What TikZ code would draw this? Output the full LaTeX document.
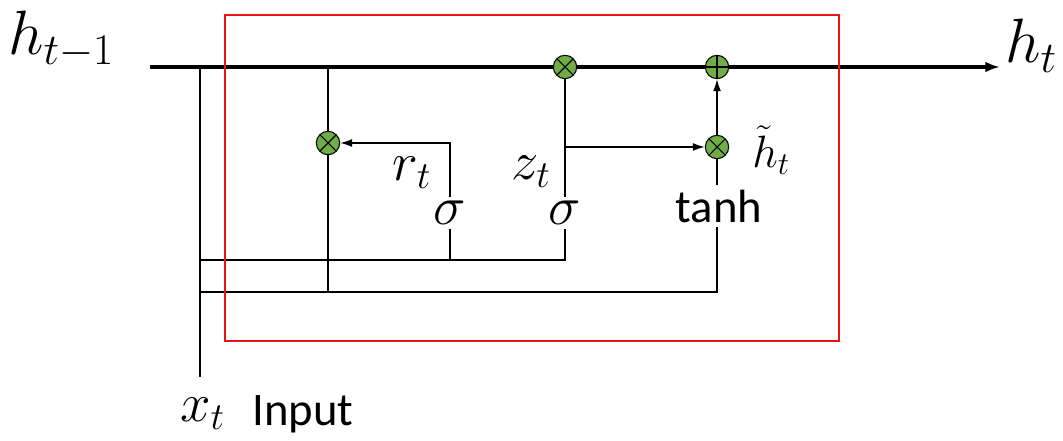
\RequirePackage{fix-cm}
\documentclass[tikz,border=0pt]{standalone}
\usepackage{fontspec}
\setmainfont{Carlito}
\usepackage{tikz}
\usetikzlibrary{arrows.meta,positioning}
\definecolor{gategreen}{RGB}{112,173,71}
\definecolor{boxred}{RGB}{232,20,20}

\begin{document}
\begin{tikzpicture}[
    x=0.75pt, y=-0.75pt,
    wire/.style={line width=1pt},
    mainline/.style={line width=2.3pt},
    arr/.style={-{Latex[length=9pt, width=6pt]}},
    bigarr/.style={-{Latex[length=11pt, width=8pt]}},
    gate/.style={draw, circle, fill=gategreen, minimum size=17.5pt, inner sep=0pt, line width=0.8pt},
    mult/.style={gate, path picture={\draw[line width=0.8pt] (path picture bounding box.south west) -- (path picture bounding box.north east) (path picture bounding box.north west) -- (path picture bounding box.south east);}},
    plus/.style={gate, path picture={\draw[line width=0.8pt] (path picture bounding box.north) -- (path picture bounding box.south) (path picture bounding box.west) -- (path picture bounding box.east);}},
    act/.style={inner sep=3pt, font=\fontsize{41}{48}\selectfont},
    fn/.style={inner sep=3pt, font=\fontsize{35}{42}\selectfont},
    lbl/.style={inner sep=0pt, font=\fontsize{41}{48}\selectfont},
    biglbl/.style={inner sep=0pt, font=\fontsize{47}{56}\selectfont},
    smlbl/.style={inner sep=0pt, font=\fontsize{34}{40}\selectfont}
]
\useasboundingbox (0,0) rectangle (1063,441);

% gates
\node[mult] (mulz) at (565,67) {};
\node[plus] (addh) at (717,67) {};
\node[mult] (mulr) at (328,143) {};
\node[mult] (mulh) at (717,147) {};
\node[act] (sigr) at (450,213) {$\sigma$};
\node[act] (sigz) at (565,213) {$\sigma$};
\node[fn] (tanh) at (719,206) {tanh};

% labels
\node[biglbl, anchor=base west] (hprev) at (8,55) {$h_{t-1}$};
\node[biglbl, anchor=base west] (hnext) at (1005,63) {$h_t$};
\node[lbl] (rlab) at (412,173) {$r_t$};
\node[lbl] (zlab) at (531,172) {$z_t$};
\node[smlbl] (htlab) at (771,150) {$\tilde{h}_t$};
\node[lbl, anchor=base west] (xt) at (180,421) {$x_t$};
\node[fn, inner sep=0pt, anchor=base west] (inlab) at (252,425) {Input};

\coordinate (hin) at (150,67);
\coordinate (hout) at (1000,67);
\coordinate (xtop) at (200,67);
\coordinate (xbot) at (200,377);
\coordinate (xsig) at (200,260);
\coordinate (xtan) at (200,292);

% state line
\draw[mainline, bigarr] (hin) -- (mulz) -- (addh) -- (hout);

% input x_t
\draw[wire] (xbot) -- (xtop);
\draw[wire] (xsig) -| (sigz);
\draw[wire] (sigr |- xsig) -- (sigr);
\draw[wire] (xtan) -| (mulh |- tanh.south) -- (tanh.south -| mulh);

% reset path
\draw[wire] (mulr |- hin) -- (mulr) -- (mulr |- xtan);
\draw[wire, arr] (sigr) |- (mulr);

% update path
\draw[wire] (sigz) -- (mulz);
\draw[wire, arr] (sigz |- mulh) -- (mulh);
\draw[wire] (tanh.north -| mulh) -- (mulh);
\draw[wire, arr] (mulh) -- (addh);

\draw[boxred, line width=2pt] (225,15) rectangle (839,341);
\end{tikzpicture}
\end{document}
